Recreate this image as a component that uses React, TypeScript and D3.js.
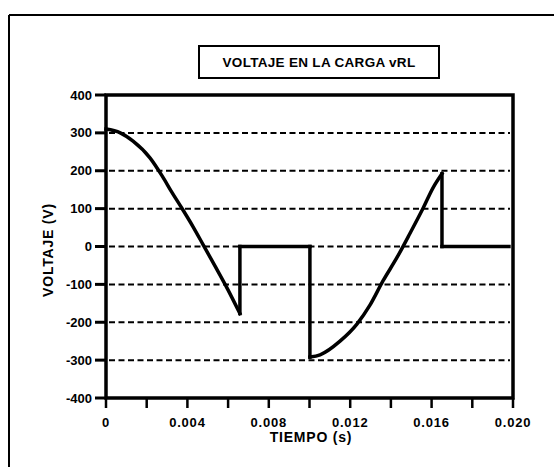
import React from "react";
import * as d3 from "d3";

// Load voltage v_RL(t) for a phase-controlled half-wave circuit
const timeSeconds = [
  0, 0.0007, 0.00133, 0.00216, 0.00275, 0.00324, 0.00373, 0.00428, 0.00477, 0.00536, 0.00595, 0.00658,
  0.00658, 0.01002,
  0.01002, 0.01052, 0.0115, 0.01233, 0.01297, 0.01361, 0.0143, 0.01494, 0.01558, 0.01607, 0.01651,
  0.01651, 0.0198,
];
const voltage = [
  310, 300, 278, 234, 187, 143, 101, 52, 5, -52, -110, -177,
  0, 0,
  -292, -286, -250, -205, -155, -91, -29, 35, 101, 155, 192,
  0, 0,
];

const yTicks = [400, 300, 200, 100, 0, -100, -200, -300, -400];
const gridValues = [300, 200, 100, 0, -100, -200, -300];
const xMajorTicks = [0, 0.004, 0.008, 0.012, 0.016, 0.02];
const xMinorTicks = [0.002, 0.006, 0.01, 0.014, 0.018];
const xTickLabels = ["0", "0.004", "0.008", "0.012", "0.016", "0.020"];

const title = "VOLTAJE EN LA CARGA vRL";
const xTitle = "TIEMPO (s)";
const yTitle = "VOLTAJE (V)";

const W = 554;
const H = 467;
const plot = { left: 106, right: 513, top: 95, bottom: 398 };
const font = "'Liberation Sans', Arial, sans-serif";

type Pt = [number, number];

// Split the trace at the switching instants (repeated time stamps) so the
// conduction arcs can be smoothed while the jumps stay vertical.
function splitAtJumps(pts: Pt[]): Pt[][] {
  const pieces: Pt[][] = [[pts[0]]];
  for (let i = 1; i < pts.length; i++) {
    if (pts[i][0] === pts[i - 1][0]) pieces.push([pts[i]]);
    else pieces[pieces.length - 1].push(pts[i]);
  }
  return pieces;
}

export default function App() {
  const x = d3.scaleLinear().domain([0, 0.02]).range([plot.left, plot.right]);
  const y = d3.scaleLinear().domain([-400, 400]).range([plot.bottom, plot.top]);

  const points: Pt[] = timeSeconds.map((t, i) => [t, voltage[i]]);
  const pieces = splitAtJumps(points);

  const smooth = d3
    .line<Pt>()
    .x((d) => x(d[0]))
    .y((d) => y(d[1]))
    .curve(d3.curveMonotoneX);

  // vertical switching edges between consecutive pieces
  const jumps: [Pt, Pt][] = [];
  for (let i = 1; i < pieces.length; i++) {
    jumps.push([pieces[i - 1][pieces[i - 1].length - 1], pieces[i][0]]);
  }

  return (
    <svg
      width={W}
      height={H}
      style={{ position: "absolute", left: 0, top: 0, background: "#fff" }}
      fontFamily={font}
      fontWeight="bold"
    >
      {/* outer page frame */}
      <line x1={9} y1={15} x2={W} y2={15} stroke="#000" strokeWidth={2} />
      <line x1={9} y1={15} x2={9} y2={H} stroke="#000" strokeWidth={2} />

      {/* title box */}
      <rect x={199} y={46} width={240} height={32} fill="none" stroke="#000" strokeWidth={2} />
      <text x={319} y={67} textAnchor="middle" fontSize={13.5} letterSpacing={0.3}>
        {title}
      </text>

      {/* grid */}
      {gridValues.map((v) => (
        <line
          key={v}
          x1={plot.left + 3}
          x2={plot.right - 3}
          y1={y(v)}
          y2={y(v)}
          stroke="#000"
          strokeWidth={2}
          strokeDasharray="6 3.5"
        />
      ))}

      {/* y ticks and labels */}
      {yTicks.map((v) => (
        <g key={v}>
          <line x1={95} x2={plot.left} y1={y(v)} y2={y(v)} stroke="#000" strokeWidth={3} />
          <text x={92} y={y(v)} dy="0.35em" textAnchor="end" fontSize={13}>
            {String(v)}
          </text>
        </g>
      ))}

      {/* x ticks and labels */}
      {xMajorTicks.concat(xMinorTicks).map((t) => (
        <line key={t} x1={x(t)} x2={x(t)} y1={plot.bottom} y2={plot.bottom + 10} stroke="#000" strokeWidth={2.5} />
      ))}
      {xMajorTicks.map((t, i) => (
        <text key={t} x={x(t)} y={427} textAnchor="middle" fontSize={13} letterSpacing={0.8}>
          {xTickLabels[i]}
        </text>
      ))}

      {/* axis titles */}
      <text x={311} y={442} textAnchor="middle" fontSize={14} letterSpacing={0.8}>
        {xTitle}
      </text>
      <text transform={`translate(53, 250) rotate(-90)`} textAnchor="middle" fontSize={14} letterSpacing={0.8}>
        {yTitle}
      </text>

      {/* waveform */}
      <g fill="none" stroke="#000" strokeWidth={3.5} strokeLinecap="square">
        {pieces.map((p, i) => (
          <path key={`p${i}`} d={smooth(p) ?? ""} />
        ))}
        {jumps.map(([a, b], i) => (
          <line key={`j${i}`} x1={x(a[0])} y1={y(a[1])} x2={x(b[0])} y2={y(b[1])} />
        ))}
      </g>

      {/* plot frame */}
      <rect
        x={plot.left}
        y={plot.top}
        width={plot.right - plot.left}
        height={plot.bottom - plot.top}
        fill="none"
        stroke="#000"
        strokeWidth={3.5}
      />
    </svg>
  );
}
